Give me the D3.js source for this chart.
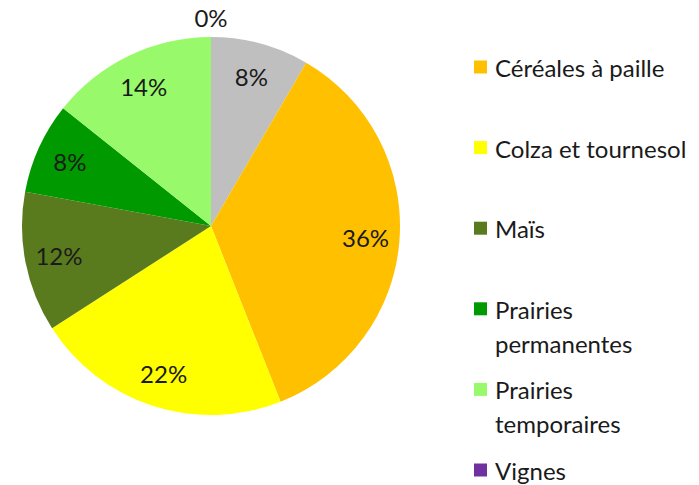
<!DOCTYPE html>
<html>
<head>
<meta charset="utf-8">
<script src="https://cdn.jsdelivr.net/npm/d3@7"></script>
<style>
  html, body { margin: 0; padding: 0; background: #ffffff; }
  svg { display: block; }
  text { font-family: Lato, "Open Sans", sans-serif; fill: #1a1a1a; }
</style>
</head>
<body>
<svg id="chart" width="699" height="485"></svg>
<script>
// Crop shares (percent of surface), in drawing order starting at 12 o'clock
const categories = ["Autres cultures", "Céréales à paille", "Colza et tournesol", "Maïs",
                    "Prairies permanentes", "Prairies temporaires", "Vignes"];
const shares = [8.4, 35.6, 21.9, 12.0, 7.8, 14.3, 0];
const colors = ["#bfbfbf", "#ffc000", "#ffff00", "#5a7a1e", "#009a00", "#98fa6a", "#7030a0"];
// Categories listed in the legend
const legendCategories = categories.slice(1);

const W = 699, H = 485;
const cx = 211, cy = 226, R = 189;
const fontSize = 24;

const svg = d3.select("#chart");
const data = categories.map((c, i) => ({ name: c, value: shares[i], color: colors[i] }));

const pie = d3.pie().sort(null).value(d => d.value);
const arcs = pie(data);
const arc = d3.arc().innerRadius(0).outerRadius(R);
const labelArc = d3.arc().innerRadius(R * 0.82).outerRadius(R * 0.82);
const outerArc = d3.arc().innerRadius(R + 20).outerRadius(R + 20);
const pct = d3.format(".0%");

const g = svg.append("g").attr("transform", `translate(${cx},${cy})`);

g.selectAll("path.slice")
  .data(arcs)
  .join("path")
  .attr("class", "slice")
  .attr("d", arc)
  .attr("fill", d => d.data.color);

// Value labels: inside the slice, or just outside the rim for an empty slice
g.selectAll("text.value")
  .data(arcs)
  .join("text")
  .attr("class", "value")
  .attr("transform", d => `translate(${(d.data.value > 0 ? labelArc : outerArc).centroid(d)})`)
  .attr("text-anchor", "middle")
  .attr("dominant-baseline", "central")
  .attr("font-size", fontSize)
  .text(d => pct(d.data.value / 100));

// Legend to the right of the pie
const legendX = 474, textX = 495, maxW = 200, lineH = 34, box = 13;
const ly = d3.scalePoint().domain(legendCategories).range([67, 470]);

const items = svg.append("g").selectAll("g.item")
  .data(data.filter(d => legendCategories.includes(d.name)))
  .join("g")
  .attr("class", "item")
  .attr("transform", d => `translate(0,${ly(d.name)})`);

items.append("rect")
  .attr("x", legendX)
  .attr("y", -box / 2)
  .attr("width", box)
  .attr("height", box)
  .attr("fill", d => d.color);

items.append("text")
  .attr("x", textX)
  .attr("y", 0)
  .attr("dominant-baseline", "central")
  .attr("font-size", fontSize)
  .each(function (d) {
    const t = d3.select(this);
    const words = d.name.split(" ");
    let line = [];
    let tspan = t.append("tspan").attr("x", textX).attr("dy", 0);
    words.forEach(w => {
      line.push(w);
      tspan.text(line.join(" "));
      if (tspan.node().getComputedTextLength() > maxW && line.length > 1) {
        line.pop();
        tspan.text(line.join(" "));
        line = [w];
        tspan = t.append("tspan").attr("x", textX).attr("dy", lineH).text(w);
      }
    });
  });
</script>
</body>
</html>
